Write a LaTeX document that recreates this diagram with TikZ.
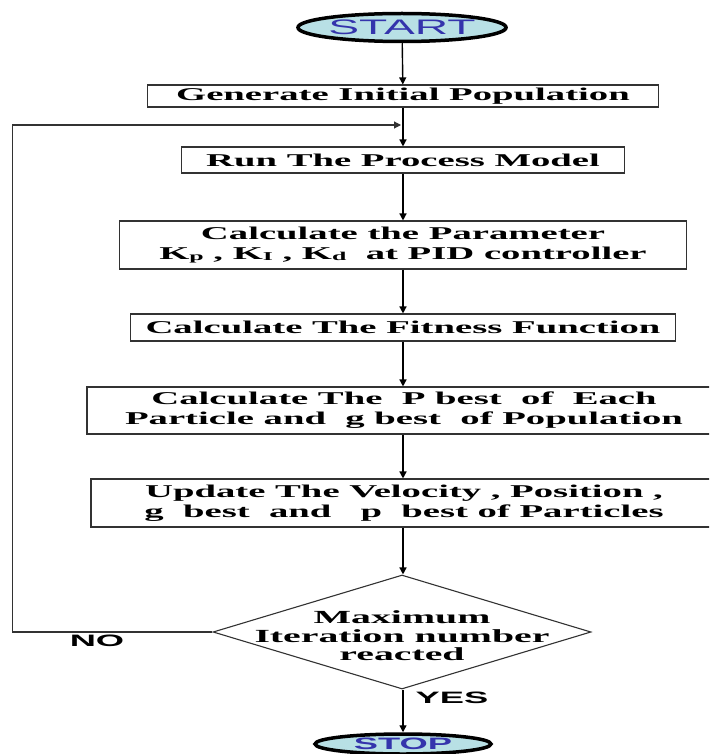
\documentclass[tikz,border=0pt]{standalone}
\usepackage{fontspec}
\usetikzlibrary{shapes.geometric,arrows.meta}
\newfontfamily\stepfont[FakeStretch=2.15]{Liberation Serif}
\newfontfamily\termfont[FakeStretch=2.2]{Liberation Sans}
\newcommand\gain[1]{\raisebox{-1.5pt}{\fontsize{12}{12}\selectfont #1}}
\definecolor{termfill}{RGB}{184,224,229}
\definecolor{termtext}{RGB}{52,52,172}
\definecolor{boxline}{RGB}{50,50,50}
\tikzset{
  stepbox/.style={draw=boxline, line width=1.1pt, rectangle, inner sep=0pt,
    align=center, font=\stepfont\bfseries\fontsize{18}{20}\selectfont},
  terminal/.style={ellipse, draw=black, line width=3.5pt, fill=termfill,
    text=termtext, inner sep=0pt},
  decision/.style={diamond, draw=boxline, line width=1.1pt, inner sep=0pt, aspect=1},
  flow/.style={draw=black, line width=1.4pt, -{Triangle[length=7pt,width=7pt]}},
  answer/.style={font=\termfont\bfseries\fontsize{16.5}{18}\selectfont, inner sep=0pt}
}
\begin{document}
\begin{tikzpicture}[x=1pt,y=-1pt]
\clip (0,0) rectangle (709,754);
\fill[white] (0,0) rectangle (709,754);

% terminals
\node[terminal, minimum width=192pt, minimum height=28pt,
      font=\termfont\fontsize{21}{21}\selectfont] (start) at (402,27.5) {START};
\node[terminal, minimum width=176pt, minimum height=20pt,
      font=\termfont\bfseries\fontsize{16.5}{16.5}\selectfont] (stop) at (403,744) {STOP};

% process steps
\node[stepbox, minimum width=511pt, minimum height=22pt] (gen) at (403,96)
  {Generate Initial Population};
\node[stepbox, minimum width=443pt, minimum height=26pt] (run) at (403,160)
  {Run The Process Model};
\node[stepbox, minimum width=567pt, minimum height=48pt] (param) at (403,245)
  {Calculate the Parameter\\K\gain{p} , K\gain{I} , K\gain{d} \ at PID controller};
\node[stepbox, minimum width=545pt, minimum height=27pt] (fit) at (403,327.5)
  {Calculate The Fitness Function};
\node[stepbox, minimum width=634pt, minimum height=47pt] (best) at (404,410.5)
  {Calculate The \ P best \ of \ Each\\Particle and \ g best \ of Population};
\node[stepbox, minimum width=626pt, minimum height=48pt] (upd) at (404,503)
  {Update The Velocity , Position ,\\g \ best \ and \ \ p \ best of Particles};

% decision
\node[decision, minimum width=378pt, minimum height=114pt] (dec) at (402,632) {};
\node[align=center, inner sep=0pt,
      font=\stepfont\bfseries\fontsize{18.5}{18.5}\selectfont] (dectext) at (402,636)
  {Maximum\\Iteration number\\reacted};

% labels of the two exits
\node[answer] (no) at (97,641) {NO};
\node[answer] (yes) at (452,698) {YES};

% connectors
\coordinate (loopin) at (401,125);
\draw[flow] (start) -- (gen);
\draw[flow] (gen) -- (run);
\draw[flow] (run) -- (param);
\draw[flow] (param) -- (fit);
\draw[flow] (fit.south -| gen.south) -- (best.north -| gen.south);
\draw[flow] (best.south -| gen.south) -- (upd.north -| gen.south);
\draw[flow] (upd.south -| gen.south) -- (dec.north -| gen.south);
\draw[flow] (dec.south -| gen.south) -- (stop);
\draw[flow, line width=1.1pt, draw=boxline] (dec.west) -- ++(-200,0) |- (loopin);
\end{tikzpicture}
\end{document}
